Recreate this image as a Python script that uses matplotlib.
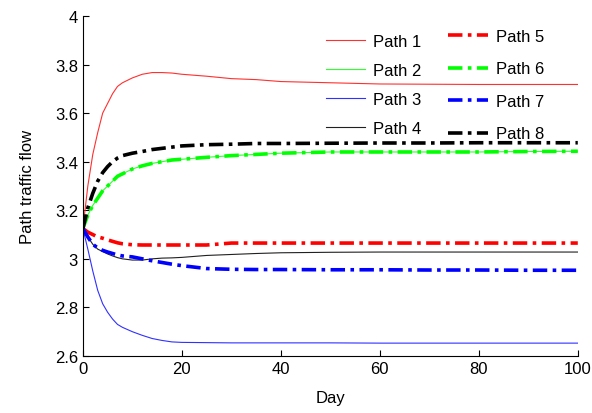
import matplotlib
matplotlib.use("Agg")
import matplotlib.pyplot as plt
from matplotlib.ticker import FuncFormatter

plt.rcParams['font.family'] = ['Liberation Sans', 'DejaVu Sans']

days = [0, 1, 2, 3, 4, 5, 6, 7, 8, 10, 12, 14, 16, 18, 20, 25, 30, 35, 40, 50, 60, 70, 80, 90, 100]

path1 = [3.125, 3.30, 3.43, 3.52, 3.60, 3.64, 3.68, 3.71, 3.725, 3.745, 3.76, 3.767, 3.767, 3.765,
         3.76, 3.752, 3.742, 3.738, 3.730, 3.725, 3.720, 3.719, 3.718, 3.718, 3.718]
path2 = [3.125, 3.18, 3.22, 3.25, 3.28, 3.30, 3.32, 3.34, 3.35, 3.37, 3.383, 3.393, 3.40, 3.407,
         3.41, 3.418, 3.425, 3.43, 3.435, 3.44, 3.44, 3.44, 3.44, 3.442, 3.443]
path3 = [3.125, 3.04, 2.95, 2.87, 2.815, 2.78, 2.752, 2.73, 2.718, 2.70, 2.685, 2.672, 2.664, 2.658,
         2.656, 2.655, 2.654, 2.654, 2.654, 2.654, 2.653, 2.653, 2.653, 2.653, 2.653]
path4 = [3.125, 3.09, 3.06, 3.04, 3.03, 3.02, 3.012, 3.005, 3.0, 2.995, 2.995, 3.0, 3.003, 3.004,
         3.006, 3.014, 3.018, 3.022, 3.025, 3.027, 3.028, 3.028, 3.028, 3.028, 3.028]
path5 = [3.125, 3.11, 3.10, 3.09, 3.085, 3.078, 3.072, 3.066, 3.062, 3.058, 3.057, 3.057, 3.057, 3.057,
         3.057, 3.057, 3.065, 3.065, 3.065, 3.065, 3.065, 3.065, 3.065, 3.065, 3.065]
path6 = [3.125, 3.18, 3.22, 3.25, 3.28, 3.30, 3.32, 3.34, 3.35, 3.37, 3.383, 3.393, 3.40, 3.407,
         3.41, 3.418, 3.425, 3.43, 3.435, 3.44, 3.44, 3.44, 3.44, 3.442, 3.443]
path7 = [3.125, 3.09, 3.06, 3.045, 3.035, 3.028, 3.022, 3.016, 3.012, 3.008, 3.0, 2.992, 2.985, 2.978,
         2.972, 2.96, 2.957, 2.956, 2.956, 2.955, 2.955, 2.954, 2.954, 2.953, 2.953]
path8 = [3.125, 3.21, 3.27, 3.32, 3.355, 3.38, 3.40, 3.415, 3.425, 3.435, 3.442, 3.45, 3.455, 3.46,
         3.465, 3.47, 3.472, 3.475, 3.475, 3.476, 3.477, 3.477, 3.478, 3.478, 3.478]

labels = ['Path 1', 'Path 2', 'Path 3', 'Path 4', 'Path 5', 'Path 6', 'Path 7', 'Path 8']
xticks = [0, 20, 40, 60, 80, 100]
yticks = [2.6, 2.8, 3.0, 3.2, 3.4, 3.6, 3.8, 4.0]

fig = plt.figure(figsize=(5.92, 4.14), dpi=100)
ax = fig.add_axes([0.140, 0.1377, 0.836, 0.8213])

solid = []
for vals, c, lab in zip([path1, path2, path3, path4], ['#ff3030', '#30ff30', '#3030ff', '#202020'], labels[:4]):
    h, = ax.plot(days, vals, color=c, lw=0.8, ls='-', label=lab)
    solid.append(h)
dd = []
for vals, c, lab in zip([path5, path6, path7, path8], ['#ff0000', '#00ff00', '#0000ff', '#000000'], labels[4:]):
    h, = ax.plot(days, vals, color=c, lw=2.6, ls=(0, (4, 1.5, 1, 1.5)), label=lab)
    dd.append(h)

ax.set_xlim(0, 100)
ax.set_ylim(2.6, 4.0)
ax.set_xticks(xticks)
ax.set_yticks(yticks)
ax.yaxis.set_major_formatter(FuncFormatter(lambda v, p: ('%g' % round(v, 1))))
ax.tick_params(direction='in', length=4, labelsize=12, width=0.8)
ax.spines['top'].set_visible(False)
ax.spines['right'].set_visible(False)
ax.set_xlabel('Day', fontsize=12, labelpad=10)
ax.set_ylabel('Path traffic flow', fontsize=12, labelpad=14)

leg1 = ax.legend(handles=solid, frameon=False, fontsize=12, loc='upper left',
                 bbox_to_anchor=(0.54, 0.932), bbox_transform=fig.transFigure,
                 handlelength=2.3, handletextpad=0.5, labelspacing=0.85, borderaxespad=0)
ax.add_artist(leg1)
leg2 = ax.legend(handles=dd, frameon=False, fontsize=12, loc='upper left',
                 bbox_to_anchor=(0.745, 0.944), bbox_transform=fig.transFigure,
                 handlelength=2.4, handletextpad=0.5, labelspacing=1.05, borderaxespad=0)

fig.savefig('out.png', dpi=100)
